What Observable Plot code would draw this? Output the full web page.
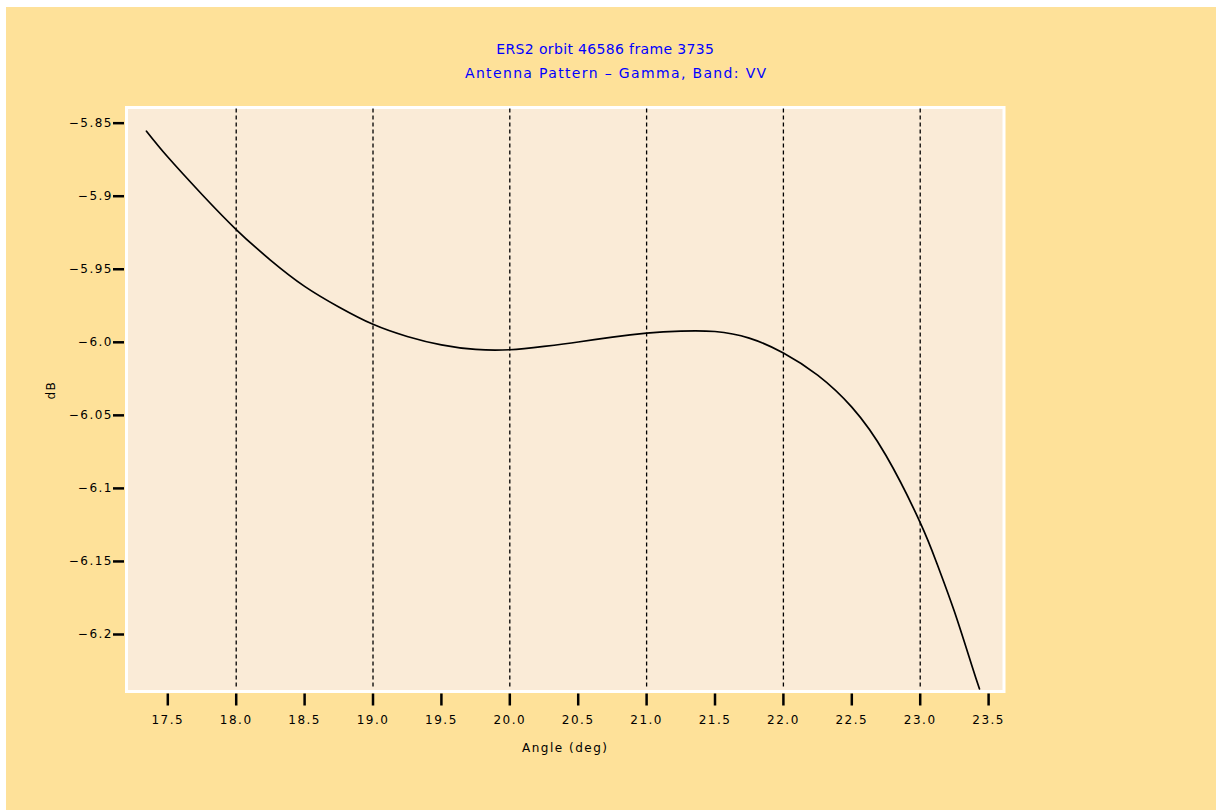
<!DOCTYPE html>
<html>
<head>
<meta charset="utf-8">
<script src="https://cdn.jsdelivr.net/npm/d3@7"></script>
<script src="https://cdn.jsdelivr.net/npm/@observablehq/plot@0.6"></script>
<style>
  html, body { margin: 0; padding: 0; background: #ffffff; overflow: hidden; }
  #chart { position: absolute; left: 6px; top: 7px; }
  #chart svg text { letter-spacing: 1.5px; }
</style>
</head>
<body>
<div id="chart"></div>
<script>
// ---- data ----
const titleLines = ["ERS2 orbit 46586 frame 3735", "Antenna Pattern – Gamma, Band: VV"];
const xLabel = "Angle (deg)";
const yLabel = "dB";

const angles = [17.344, 17.5, 17.75, 18.0, 18.25, 18.5, 18.75, 19.0, 19.25, 19.5, 19.75, 20.0,
  20.25, 20.5, 20.75, 21.0, 21.25, 21.5, 21.75, 22.0, 22.25, 22.5, 22.75, 23.0, 23.125, 23.25, 23.375, 23.433];
const dB = [-5.8555, -5.8732, -5.8988, -5.9228, -5.9437, -5.9617, -5.9758, -5.9877, -5.9960, -6.0018, -6.0049, -6.0051,
  -6.0028, -5.9998, -5.9964, -5.9937, -5.9923, -5.9926, -5.9971, -6.0073, -6.0225, -6.0444, -6.0775, -6.1234, -6.1521, -6.1843, -6.2206, -6.2372];

const xTicks = [17.5, 18.0, 18.5, 19.0, 19.5, 20.0, 20.5, 21.0, 21.5, 22.0, 22.5, 23.0, 23.5];
const xTickLabels = ["17.5", "18.0", "18.5", "19.0", "19.5", "20.0", "20.5", "21.0", "21.5", "22.0", "22.5", "23.0", "23.5"];
const yTicks = [-5.85, -5.9, -5.95, -6.0, -6.05, -6.1, -6.15, -6.2];
const yTickLabels = ["−5.85", "−5.9", "−5.95", "−6.0", "−6.05", "−6.1", "−6.15", "−6.2"];
const gridAngles = [18, 19, 20, 21, 22, 23];

const points = angles.map((a, i) => ({angle: a, db: dB[i]}));
const xFmt = new Map(xTicks.map((t, i) => [t, xTickLabels[i]]));
const yFmt = new Map(yTicks.map((t, i) => [t, yTickLabels[i]]));

const plot = Plot.plot({
  width: 1210,
  height: 803,
  marginLeft: 121.5,
  marginRight: 214,
  marginTop: 101.5,
  marginBottom: 120.5,
  style: {
    background: "#FEE199",
    fontFamily: "'DejaVu Sans', sans-serif",
    fontSize: "12px",
    color: "black",
    overflow: "visible"
  },
  x: {domain: [17.209, 23.6016]},
  y: {domain: [-6.238, -5.8403]},
  marks: [
    Plot.frame({fill: "white", inset: -3}),
    Plot.frame({fill: "#FAEBD7"}),
    Plot.ruleX(gridAngles, {stroke: "black", strokeWidth: 1.3, strokeDasharray: "4,3"}),
    Plot.line(points, {x: "angle", y: "db", stroke: "black", strokeWidth: 1.7, curve: "natural"}),
    Plot.axisX({ticks: xTicks, tickFormat: d => xFmt.get(d), label: null, tickSize: 12, tickPadding: 9,
      dy: 4, strokeWidth: 2.5, stroke: "black", fontSize: 12}),
    Plot.axisY({ticks: yTicks, tickFormat: d => yFmt.get(d), label: null, tickSize: 11, tickPadding: 0.5,
      dx: -3.5, strokeWidth: 2.5, stroke: "black", fontSize: 12}),
    Plot.text([titleLines[0]], {frameAnchor: "top", dx: 40, dy: -64.5, fill: "#0000FF", fontSize: 14, text: d => d}),
    Plot.text([titleLines[1]], {frameAnchor: "top", dx: 51, dy: -40.5, fill: "#0000FF", fontSize: 14, text: d => d}),
    Plot.text([xLabel], {frameAnchor: "bottom", dy: 61.5, fill: "black", fontSize: 12, text: d => d}),
    Plot.text([yLabel], {frameAnchor: "left", dx: -76.5, rotate: -90, fill: "black", fontSize: 12, text: d => d})
  ]
});
d3.select(plot).selectAll("text").each(function() {
  if (this.textContent === titleLines[0]) this.style.letterSpacing = "0.35px";
  if (this.textContent === titleLines[1]) this.style.letterSpacing = "1.35px";
});
document.getElementById("chart").appendChild(plot);
</script>
</body>
</html>
